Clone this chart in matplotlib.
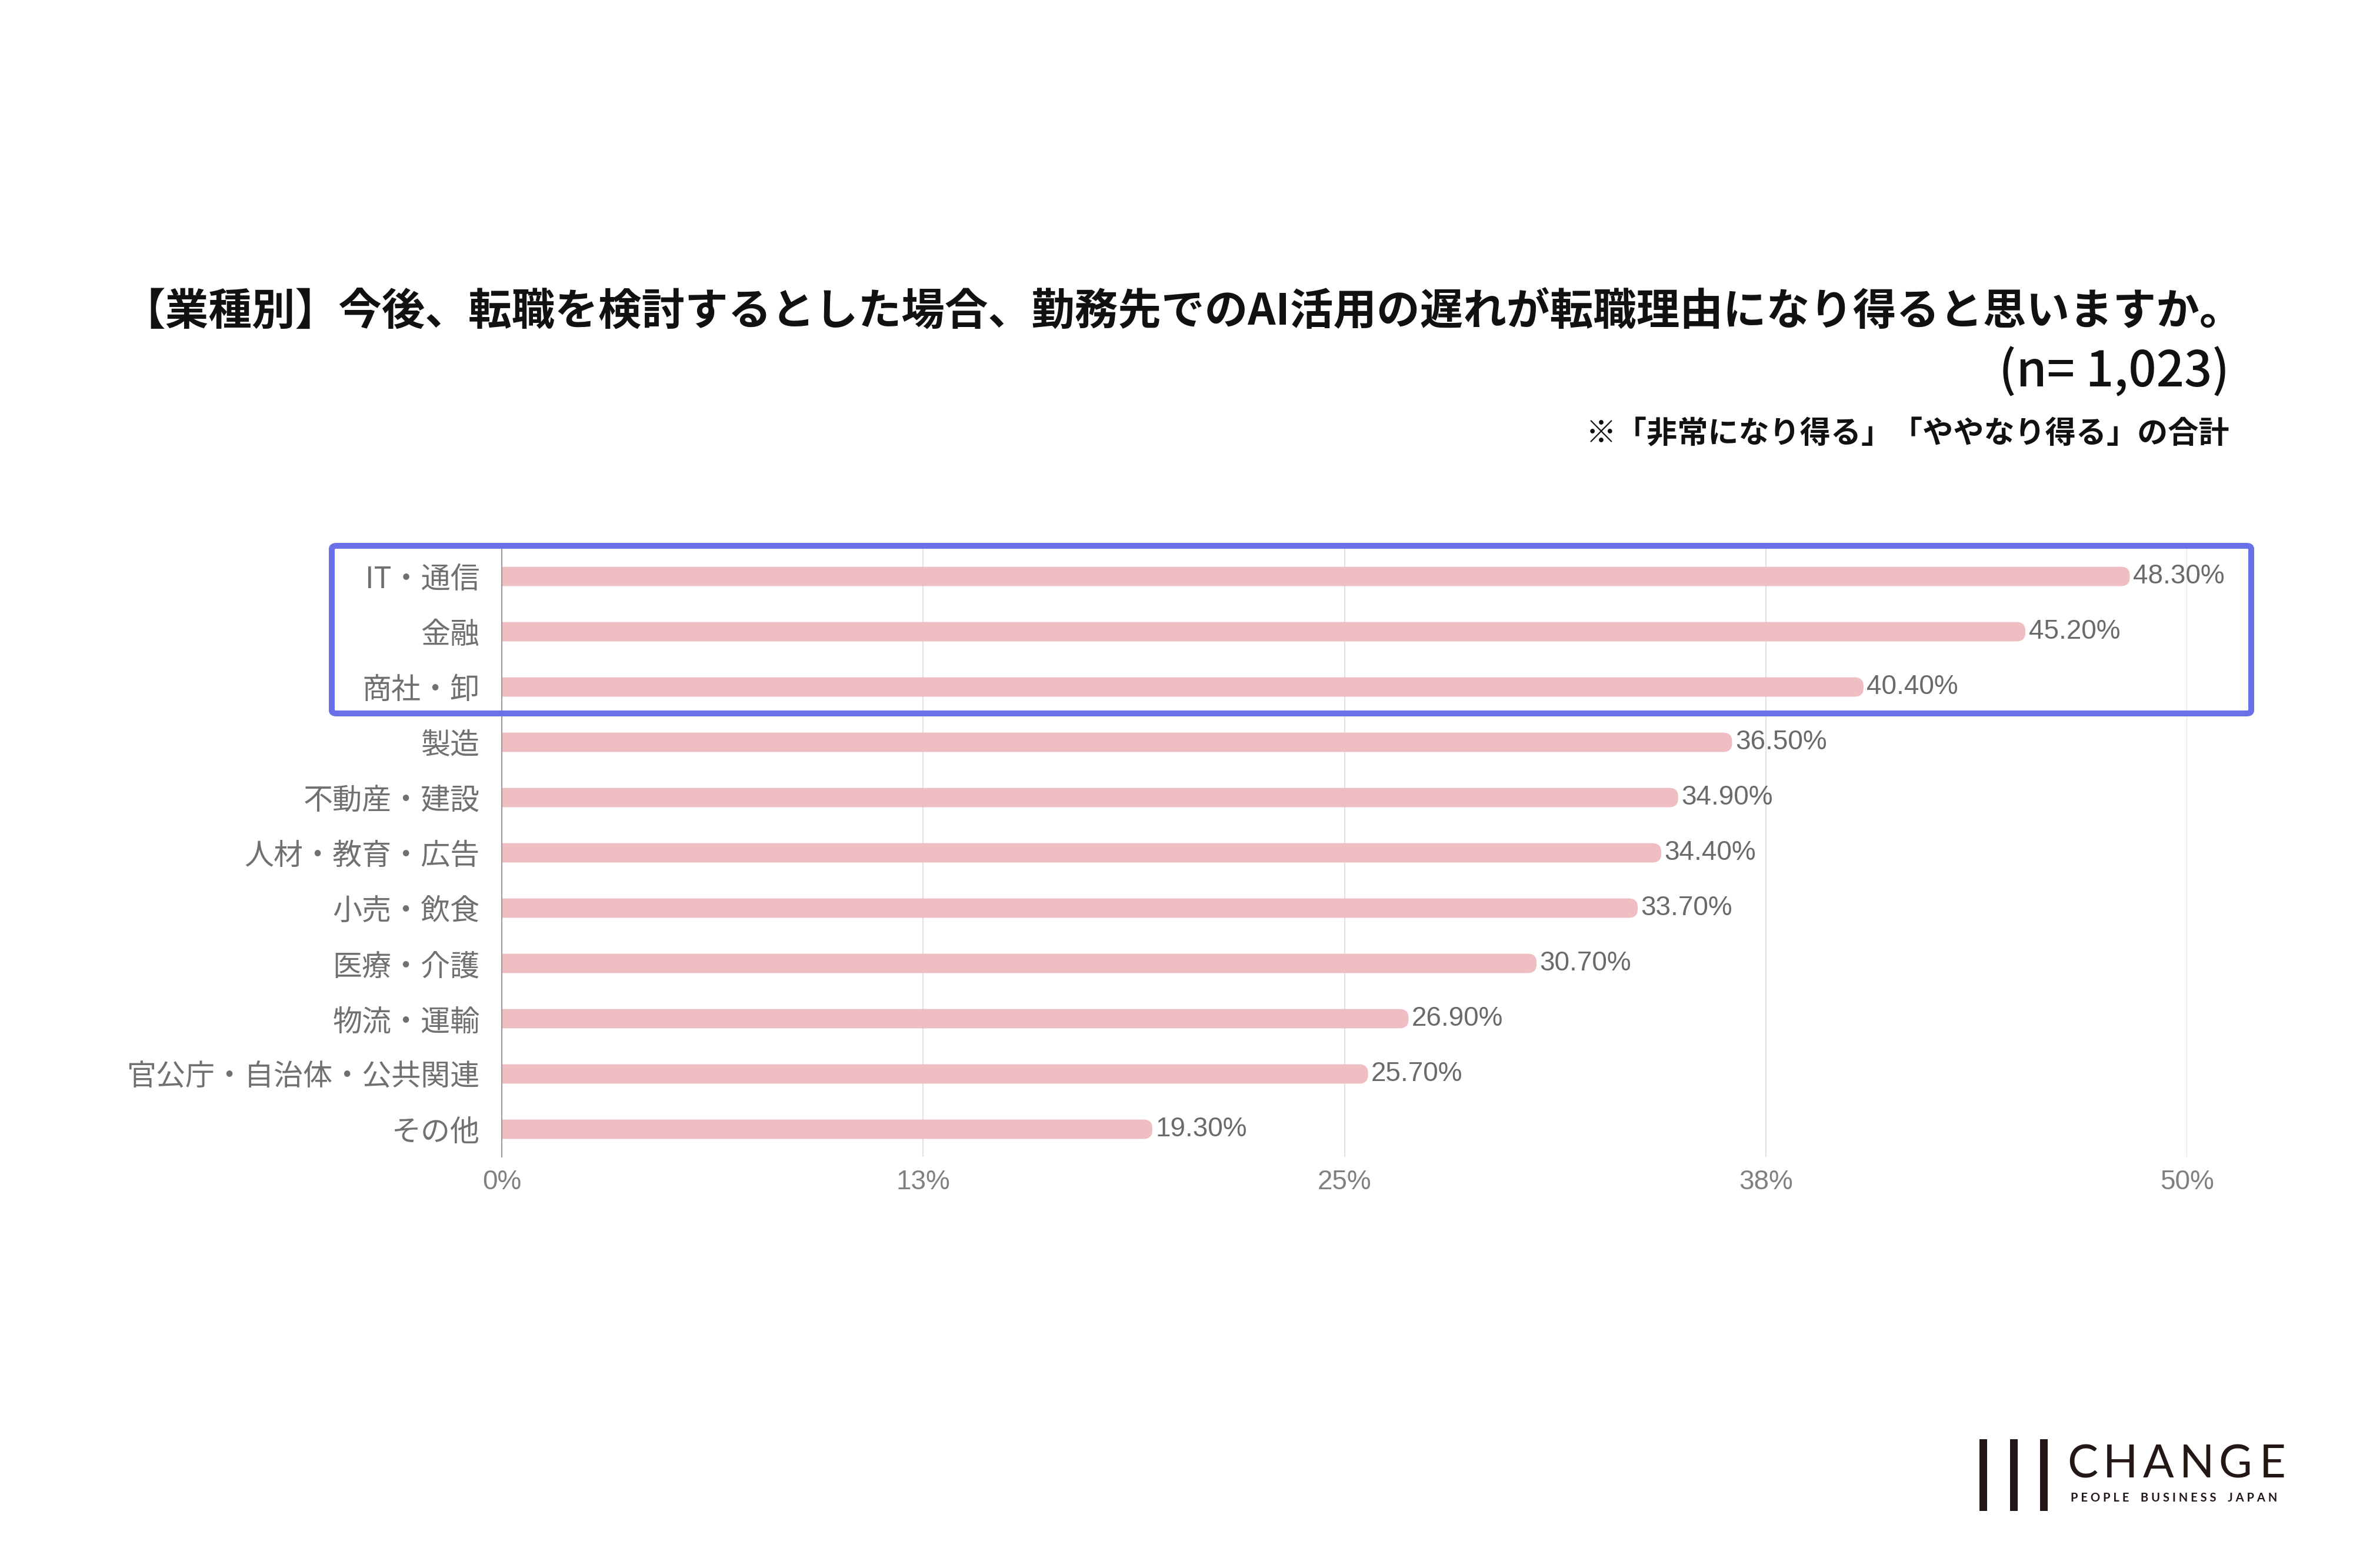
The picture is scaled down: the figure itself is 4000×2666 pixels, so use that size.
import matplotlib
matplotlib.use("Agg")
import matplotlib.pyplot as plt
from matplotlib.patches import FancyBboxPatch, Rectangle

plt.rcParams['font.family'] = ['Noto Sans CJK JP', 'DejaVu Sans']

categories = ["IT・通信", "金融", "商社・卸", "製造", "不動産・建設", "人材・教育・広告",
              "小売・飲食", "医療・介護", "物流・運輸", "官公庁・自治体・公共関連", "その他"]
values = [48.3, 45.2, 40.4, 36.5, 34.9, 34.4, 33.7, 30.7, 26.9, 25.7, 19.3]
value_labels = ["48.30%", "45.20%", "40.40%", "36.50%", "34.90%", "34.40%",
                "33.70%", "30.70%", "26.90%", "25.70%", "19.30%"]
xticks = [0, 12.5, 25, 37.5, 50]
xtick_labels = ["0%", "13%", "25%", "38%", "50%"]

title = "【業種別】今後、転職を検討するとした場合、勤務先でのAI活用の遅れが転職理由になり得ると思いますか。"
sample = "(n= 1,023)"
note = "※「非常になり得る」「ややなり得る」の合計"

W, H = 4000, 2666
fig = plt.figure(figsize=(W / 100, H / 100), dpi=100)
fig.patch.set_facecolor("white")

ax_l, ax_b, ax_w, ax_h = 0.21325, 0.2622, 0.71625, 0.3878
ax = fig.add_axes([ax_l, ax_b, ax_w, ax_h])
ax.set_xlim(0, 50)
ax.set_ylim(len(categories) - 0.5, -0.5)

px_per_x = ax_w * W / 50
px_per_y = ax_h * H / len(categories)
asp = px_per_x / px_per_y
r = 15 / px_per_x
bar_h = 0.35
bar_color = "#EFBEC2"

for i, v in enumerate(values):
    p = FancyBboxPatch((-r, i - bar_h / 2), v + r, bar_h,
                       boxstyle=f"round,pad=0,rounding_size={r}",
                       mutation_aspect=asp, facecolor=bar_color, edgecolor="none", zorder=2)
    ax.add_patch(p)
    ax.annotate(value_labels[i], (v, i), xytext=(4, 0), textcoords="offset points",
                ha="left", va="center", fontsize=33, color="#6a6a6a",
                family=["Liberation Sans", "DejaVu Sans"], zorder=3)

ax.set_yticks(range(len(categories)))
ax.set_yticklabels(categories, fontsize=36, color="#707070")
ax.set_xticks(xticks)
ax.set_xticklabels(xtick_labels, fontsize=33, color="#808080",
                   family=["Liberation Sans", "DejaVu Sans"])
ax.tick_params(axis="y", length=0, pad=27)
ax.tick_params(axis="x", length=0, pad=15)
ax.xaxis.grid(True, color="#e2e2e2", linewidth=1.5, zorder=0)
ax.set_axisbelow(True)
for s in ["top", "right", "bottom"]:
    ax.spines[s].set_visible(False)
ax.spines["left"].set_color("#9a9a9a")
ax.spines["left"].set_linewidth(1.5)
ax.spines["left"].set_zorder(4)

# titles
fig.text(0.5025, 0.8008, title, ha="center", va="center", fontsize=53,
         fontweight="bold", color="#111111")
fig.text(0.9475, 0.7625, sample, ha="right", va="center", fontsize=60,
         fontweight="medium", color="#111111")
fig.text(0.9475, 0.7232, note, ha="right", va="center", fontsize=37.5,
         fontweight="bold", color="#111111")

# highlight box
box = FancyBboxPatch((0.141, 0.545), 0.95675 - 0.141, 0.6519 - 0.545,
                     boxstyle="round,pad=0,rounding_size=0.002",
                     transform=fig.transFigure, facecolor="none",
                     edgecolor="#6A71E8", linewidth=7.2, zorder=10)
fig.patches.append(box)

# logo
logo_color = "#231815"
for xpx in [3365, 3417, 3468]:
    fig.patches.append(Rectangle((xpx / W, 1 - 2569 / H), 12.5 / W, (2569 - 2447) / H,
                                 transform=fig.transFigure, facecolor=logo_color,
                                 edgecolor="none"))
for ch, xc in zip("CHANGE", [3540, 3605, 3669, 3735, 3800, 3863]):
    fig.text(xc / W, 1 - 2491 / H, ch, ha="center", va="center", fontsize=56,
             family=["Lato", "DejaVu Sans"], fontweight="normal", color=logo_color)
fig.text(3520 / W, 1 - 2547 / H, "P E O P L E    B U S I N E S S    J A P A N",
         ha="left", va="center", fontsize=14.5, family=["Lato", "DejaVu Sans"],
         fontweight="bold", color=logo_color)

fig.savefig("out.png", dpi=100, facecolor="white")
